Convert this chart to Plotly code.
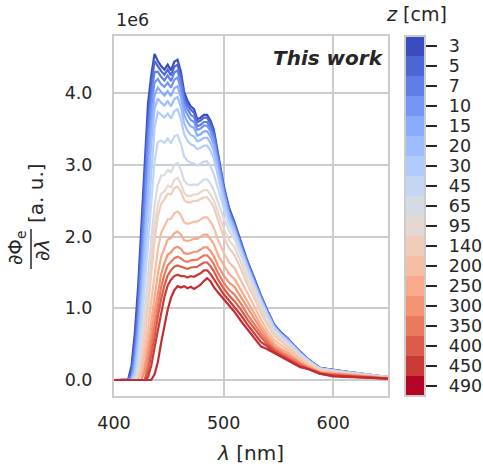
import plotly.graph_objects as go

# ---- data (values in units of 1e6) ----
wavelength_nm = [400, 413, 416, 419, 422, 425, 428, 431, 434, 437,
                 440, 443, 446, 449, 452, 455, 458, 461, 464, 467,
                 470, 473, 476, 479, 482, 485, 488, 491, 495, 500,
                 505, 510, 516, 522, 528, 534, 540, 546, 552, 558,
                 564, 570, 578, 588, 600, 615, 630, 650]

z_labels = ["3", "5", "7", "10", "15", "20", "30", "45", "65", "95",
            "140", "200", "250", "300", "350", "400", "450", "490"]

spec_z3 = [0.00, 0.01, 0.20, 0.65, 1.30, 2.20, 3.10, 3.85, 4.25, 4.55,
           4.45, 4.38, 4.33, 4.40, 4.32, 4.44, 4.47, 4.30, 4.02, 3.90,
           3.82, 3.78, 3.64, 3.66, 3.70, 3.70, 3.62, 3.50, 3.15, 2.72,
           2.40, 2.20, 1.92, 1.65, 1.42, 1.18, 0.97, 0.78, 0.67, 0.59,
           0.49, 0.39, 0.28, 0.17, 0.14, 0.11, 0.08, 0.04]
spec_z5 = [0.00, 0.00, 0.12, 0.50, 1.10, 1.95, 2.85, 3.65, 4.12, 4.45,
           4.38, 4.31, 4.26, 4.33, 4.25, 4.37, 4.40, 4.23, 3.96, 3.85,
           3.77, 3.73, 3.60, 3.62, 3.66, 3.66, 3.58, 3.46, 3.12, 2.69,
           2.38, 2.18, 1.90, 1.63, 1.41, 1.17, 0.96, 0.77, 0.66, 0.58,
           0.48, 0.39, 0.28, 0.17, 0.14, 0.11, 0.08, 0.04]
spec_z7 = [0.00, 0.00, 0.06, 0.38, 0.92, 1.70, 2.58, 3.42, 3.98, 4.30,
           4.30, 4.23, 4.18, 4.25, 4.17, 4.29, 4.32, 4.15, 3.89, 3.78,
           3.70, 3.67, 3.54, 3.56, 3.60, 3.60, 3.52, 3.41, 3.08, 2.67,
           2.35, 2.16, 1.88, 1.62, 1.39, 1.16, 0.95, 0.76, 0.66, 0.58,
           0.48, 0.38, 0.27, 0.17, 0.14, 0.11, 0.08, 0.04]
spec_z10 = [0.00, 0.00, 0.02, 0.28, 0.78, 1.48, 2.32, 3.18, 3.80, 4.15,
            4.20, 4.13, 4.09, 4.15, 4.08, 4.19, 4.22, 4.06, 3.80, 3.70,
            3.63, 3.60, 3.49, 3.51, 3.55, 3.55, 3.47, 3.36, 3.04, 2.64,
            2.33, 2.13, 1.86, 1.60, 1.38, 1.14, 0.94, 0.76, 0.65, 0.57,
            0.48, 0.38, 0.27, 0.16, 0.14, 0.11, 0.08, 0.04]
spec_z15 = [0.00, 0.00, 0.00, 0.20, 0.65, 1.28, 2.05, 2.90, 3.55, 3.98,
            4.08, 4.02, 3.97, 4.03, 3.96, 4.07, 4.10, 3.95, 3.70, 3.60,
            3.54, 3.52, 3.41, 3.43, 3.47, 3.47, 3.40, 3.29, 2.98, 2.60,
            2.30, 2.11, 1.84, 1.58, 1.36, 1.13, 0.93, 0.75, 0.64, 0.57,
            0.47, 0.37, 0.27, 0.16, 0.13, 0.11, 0.08, 0.04]
spec_z20 = [0.00, 0.00, 0.00, 0.13, 0.52, 1.10, 1.82, 2.62, 3.30, 3.78,
            3.93, 3.87, 3.83, 3.89, 3.82, 3.92, 3.95, 3.81, 3.58, 3.48,
            3.42, 3.40, 3.33, 3.35, 3.38, 3.38, 3.31, 3.20, 2.91, 2.55,
            2.27, 2.09, 1.82, 1.57, 1.35, 1.12, 0.92, 0.74, 0.64, 0.56,
            0.47, 0.37, 0.27, 0.16, 0.13, 0.10, 0.08, 0.04]
spec_z30 = [0.00, 0.00, 0.00, 0.07, 0.40, 0.92, 1.58, 2.32, 3.00, 3.52,
            3.74, 3.70, 3.66, 3.72, 3.65, 3.75, 3.78, 3.64, 3.43, 3.34,
            3.29, 3.27, 3.22, 3.24, 3.27, 3.27, 3.20, 3.10, 2.83, 2.50,
            2.23, 2.06, 1.80, 1.55, 1.33, 1.11, 0.91, 0.73, 0.63, 0.55,
            0.46, 0.37, 0.26, 0.16, 0.13, 0.10, 0.08, 0.04]
spec_z45 = [0.00, 0.00, 0.00, 0.03, 0.28, 0.72, 1.30, 1.95, 2.58, 3.05,
            3.32, 3.34, 3.31, 3.37, 3.30, 3.40, 3.42, 3.30, 3.12, 3.06,
            3.03, 3.02, 2.99, 3.02, 3.05, 3.05, 2.98, 2.88, 2.66, 2.40,
            2.17, 2.02, 1.77, 1.52, 1.31, 1.09, 0.89, 0.72, 0.62, 0.54,
            0.45, 0.36, 0.26, 0.16, 0.13, 0.10, 0.07, 0.04]
spec_z65 = [0.00, 0.00, 0.00, 0.00, 0.10, 0.50, 0.95, 1.45, 2.00, 2.45,
            2.72, 2.85, 2.86, 2.93, 2.90, 3.00, 3.03, 2.93, 2.78, 2.73,
            2.72, 2.73, 2.72, 2.76, 2.80, 2.80, 2.74, 2.65, 2.47, 2.26,
            2.08, 1.96, 1.73, 1.49, 1.28, 1.06, 0.87, 0.70, 0.60, 0.53,
            0.44, 0.35, 0.25, 0.15, 0.12, 0.10, 0.07, 0.04]
spec_z95 = [0.00, 0.00, 0.00, 0.00, 0.03, 0.35, 0.75, 1.20, 1.70, 2.15,
            2.45, 2.60, 2.63, 2.71, 2.69, 2.79, 2.82, 2.74, 2.61, 2.57,
            2.57, 2.59, 2.59, 2.62, 2.65, 2.65, 2.59, 2.51, 2.33, 2.12,
            1.95, 1.85, 1.63, 1.40, 1.21, 1.00, 0.82, 0.66, 0.57, 0.50,
            0.42, 0.33, 0.24, 0.14, 0.12, 0.09, 0.07, 0.03]
spec_z140 = [0.00, 0.00, 0.00, 0.00, 0.00, 0.22, 0.58, 1.00, 1.48, 1.95,
             2.28, 2.46, 2.52, 2.60, 2.59, 2.68, 2.70, 2.63, 2.51, 2.48,
             2.48, 2.50, 2.50, 2.52, 2.55, 2.55, 2.49, 2.41, 2.22, 2.00,
             1.84, 1.74, 1.54, 1.32, 1.14, 0.94, 0.77, 0.62, 0.54, 0.47,
             0.39, 0.31, 0.22, 0.14, 0.11, 0.09, 0.06, 0.03]
spec_z200 = [0.00, 0.00, 0.00, 0.00, 0.00, 0.10, 0.38, 0.72, 1.10, 1.50,
             1.82, 2.05, 2.15, 2.24, 2.25, 2.33, 2.35, 2.30, 2.20, 2.18,
             2.19, 2.21, 2.21, 2.24, 2.27, 2.27, 2.21, 2.13, 1.95, 1.78,
             1.64, 1.56, 1.38, 1.19, 1.02, 0.85, 0.69, 0.56, 0.49, 0.43,
             0.36, 0.28, 0.20, 0.12, 0.10, 0.08, 0.06, 0.03]
spec_z250 = [0.00, 0.00, 0.00, 0.00, 0.00, 0.00, 0.22, 0.50, 0.82, 1.16,
             1.48, 1.72, 1.85, 1.96, 1.98, 2.05, 2.07, 2.03, 1.95, 1.94,
             1.95, 1.97, 1.97, 2.00, 2.03, 2.03, 1.97, 1.90, 1.74, 1.60,
             1.48, 1.41, 1.25, 1.07, 0.92, 0.77, 0.63, 0.51, 0.44, 0.39,
             0.32, 0.25, 0.18, 0.11, 0.09, 0.07, 0.05, 0.03]
spec_z300 = [0.00, 0.00, 0.00, 0.00, 0.00, 0.00, 0.12, 0.36, 0.64, 0.94,
             1.24, 1.48, 1.63, 1.75, 1.78, 1.84, 1.86, 1.83, 1.77, 1.76,
             1.77, 1.79, 1.79, 1.82, 1.85, 1.85, 1.80, 1.73, 1.59, 1.46,
             1.36, 1.30, 1.15, 0.99, 0.85, 0.71, 0.58, 0.47, 0.41, 0.36,
             0.30, 0.23, 0.17, 0.10, 0.08, 0.07, 0.05, 0.02]
spec_z350 = [0.00, 0.00, 0.00, 0.00, 0.00, 0.00, 0.00, 0.22, 0.48, 0.76,
             1.05, 1.30, 1.47, 1.60, 1.65, 1.70, 1.72, 1.70, 1.66, 1.65,
             1.67, 1.68, 1.68, 1.71, 1.74, 1.74, 1.69, 1.62, 1.49, 1.36,
             1.26, 1.19, 1.06, 0.91, 0.78, 0.65, 0.54, 0.44, 0.38, 0.33,
             0.28, 0.22, 0.16, 0.10, 0.08, 0.06, 0.04, 0.02]
spec_z400 = [0.00, 0.00, 0.00, 0.00, 0.00, 0.00, 0.00, 0.12, 0.34, 0.60,
             0.88, 1.13, 1.32, 1.46, 1.53, 1.58, 1.60, 1.58, 1.56, 1.55,
             1.57, 1.57, 1.58, 1.61, 1.64, 1.64, 1.59, 1.52, 1.40, 1.28,
             1.18, 1.10, 0.98, 0.84, 0.72, 0.60, 0.50, 0.42, 0.36, 0.31,
             0.26, 0.20, 0.15, 0.09, 0.07, 0.05, 0.04, 0.02]
spec_z450 = [0.00, 0.00, 0.00, 0.00, 0.00, 0.00, 0.00, 0.04, 0.20, 0.45,
             0.70, 0.95, 1.16, 1.32, 1.40, 1.45, 1.47, 1.45, 1.45, 1.43,
             1.45, 1.44, 1.46, 1.49, 1.53, 1.53, 1.48, 1.41, 1.31, 1.20,
             1.11, 1.02, 0.90, 0.77, 0.65, 0.53, 0.47, 0.39, 0.34, 0.29,
             0.24, 0.19, 0.15, 0.09, 0.06, 0.05, 0.03, 0.02]
spec_z490 = [0.00, 0.00, 0.00, 0.00, 0.00, 0.00, 0.00, 0.00, 0.00, 0.08,
             0.25, 0.52, 0.78, 0.98, 1.15, 1.25, 1.31, 1.29, 1.31, 1.28,
             1.30, 1.27, 1.30, 1.33, 1.38, 1.42, 1.38, 1.30, 1.22, 1.13,
             1.05, 0.95, 0.82, 0.70, 0.58, 0.47, 0.43, 0.38, 0.33, 0.28,
             0.22, 0.18, 0.15, 0.09, 0.05, 0.04, 0.03, 0.02]

spectra = [spec_z3, spec_z5, spec_z7, spec_z10, spec_z15, spec_z20, spec_z30,
           spec_z45, spec_z65, spec_z95, spec_z140, spec_z200, spec_z250,
           spec_z300, spec_z350, spec_z400, spec_z450, spec_z490]

y_ticks = [0, 1, 2, 3, 4]
x_ticks = [400, 500, 600]

# ---- style ----
coolwarm18 = ["#3b4cc0", "#4c66d6", "#5f7fe8", "#7396f5", "#88abfd", "#9dbdff",
              "#b1cbfc", "#c4d6f3", "#d5dbe5", "#e5d8d2", "#f0cdba", "#f6bea4",
              "#f7ab8c", "#f39475", "#ea7a5f", "#dc5c4a", "#ca3b37", "#b40426"]
line_colors = coolwarm18[:-1] + ["#c42a31"]
TXT = "#262626"
GRID = "#cccccc"
FONT = "DejaVu Sans"

fig = go.Figure()
for lab, spec, col in zip(z_labels, spectra, line_colors):
    fig.add_trace(go.Scatter(x=wavelength_nm, y=spec, mode="lines",
                             line=dict(color=col, width=2.2), name=lab,
                             showlegend=False, hoverinfo="skip"))

n = len(z_labels)
cscale = []
rev = coolwarm18[::-1]
for i in range(n):
    cscale.append([i / n, rev[i]])
    cscale.append([(i + 1) / n, rev[i]])

fig.add_trace(go.Scatter(
    x=[None], y=[None], mode="markers", showlegend=False, hoverinfo="skip",
    marker=dict(color=[0], colorscale=cscale, cmin=-0.5, cmax=n - 0.5,
                showscale=True,
                colorbar=dict(
                    thickness=20, thicknessmode="pixels", len=1, lenmode="fraction",
                    x=1.062, xanchor="left", y=0.5, yanchor="middle",
                    xpad=0, ypad=0, outlinecolor=GRID, outlinewidth=2,
                    tickvals=list(range(n)),
                    ticktext=["\u2002" + t for t in z_labels[::-1]],
                    ticks="outside", ticklen=11, tickwidth=2, tickcolor=TXT,
                    tickfont=dict(size=17.5, color=TXT, family=FONT),
                ))))

axis_common = dict(showgrid=True, gridcolor=GRID, gridwidth=1.6, zeroline=False,
                   showline=True, linecolor=GRID, linewidth=2, mirror=True,
                   ticks="outside", tickcolor="rgba(0,0,0,0)",
                   tickfont=dict(size=17.5, color=TXT, family=FONT))

fig.update_layout(
    width=483, height=473,
    margin=dict(l=114, r=95, t=36, b=77, autoexpand=False),
    paper_bgcolor="white", plot_bgcolor="white",
    font=dict(family=FONT, color=TXT),
    xaxis=dict(range=[400, 650], tickvals=x_ticks,
               ticktext=[str(v) for v in x_ticks], ticklen=10,
               title=dict(text="<i>λ</i> [nm]", font=dict(size=20, color=TXT, family=FONT),
                          standoff=14),
               **axis_common),
    yaxis=dict(range=[-0.223, 4.80], tickvals=y_ticks,
               ticktext=[f"{v:.1f}" for v in y_ticks], ticklen=16,
               **axis_common),
)

# y-axis label as a rotated fraction
def px_x(px):
    return (px - 114) / 274

def px_y(py):
    return (396 - py) / 360

ann_font = dict(size=20, color=TXT, family=FONT)
fig.add_annotation(xref="paper", yref="paper", x=px_x(16), y=px_y(248),
                   text="∂Φ<sub>e</sub>", showarrow=False, textangle=-90,
                   font=ann_font, xanchor="center", yanchor="middle")
fig.add_annotation(xref="paper", yref="paper", x=px_x(42), y=px_y(250),
                   text="∂<i>λ</i>", showarrow=False, textangle=-90,
                   font=ann_font, xanchor="center", yanchor="middle")
fig.add_shape(type="line", xref="paper", yref="paper",
              x0=px_x(31), x1=px_x(31), y0=px_y(229), y1=px_y(269),
              line=dict(color=TXT, width=1.5))
fig.add_annotation(xref="paper", yref="paper", x=px_x(36), y=px_y(193),
                   text="[a. u.]", showarrow=False, textangle=-90,
                   font=ann_font, xanchor="center", yanchor="middle")

# colorbar title
fig.add_annotation(xref="paper", yref="paper", x=px_x(416), y=px_y(14),
                   text="<i>z</i> [cm]", showarrow=False,
                   xanchor="center", yanchor="middle",
                   font=dict(size=19, color=TXT, family=FONT))
# offset text
fig.add_annotation(xref="paper", yref="paper", x=0.0, y=px_y(20),
                   text="1e6", showarrow=False, xanchor="left", yanchor="middle",
                   font=dict(size=17.5, color=TXT, family=FONT))
# "This work"
fig.add_annotation(xref="paper", yref="paper", x=px_x(386), y=px_y(58),
                   text="<b><i>This work</i></b>", showarrow=False,
                   xanchor="right", yanchor="middle",
                   font=dict(size=20, color=TXT, family=FONT))

fig.write_html("out.html", config={"displayModeBar": False},
               post_script="document.body.style.margin='0px';"
                           "document.body.style.overflow='hidden';")
